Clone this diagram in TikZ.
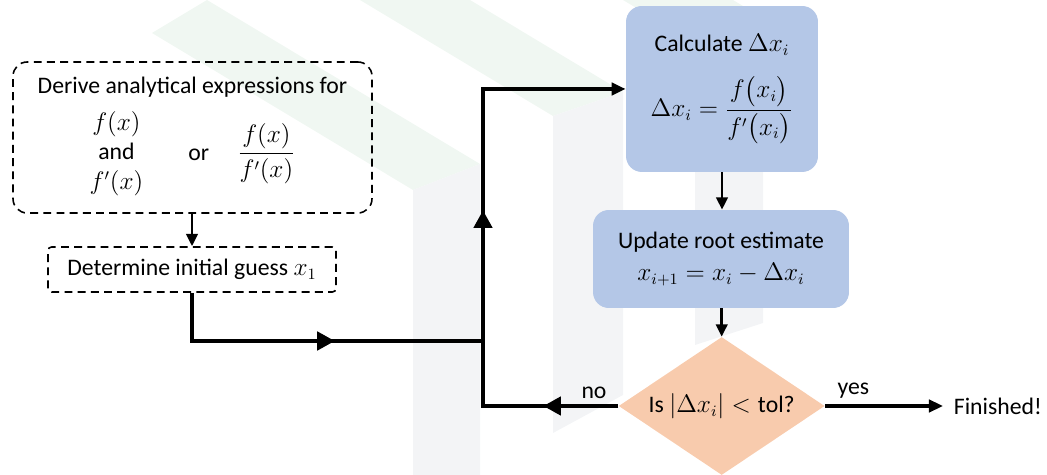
\documentclass[tikz,border=0pt]{standalone}
\usepackage{amsmath}
\usepackage{fontspec}
\setmainfont{Carlito}
\usetikzlibrary{arrows.meta,calc,positioning,shapes.geometric,decorations.markings}
\definecolor{boxblue}{RGB}{180,199,231}
\definecolor{checkorange}{RGB}{248,203,173}
\definecolor{markgreen}{RGB}{240,247,242}
\definecolor{markgray}{RGB}{243,244,246}
\tikzset{
  every node/.style={font=\fontsize{13.5}{16}\selectfont},
  dashbox/.style={draw=black, dash pattern=on 4.5pt off 3pt, line width=0.9pt,
    align=center, inner sep=0pt},
  stepbox/.style={fill=boxblue, rounded corners=9pt, align=center, inner sep=0pt},
  checkbox/.style={diamond, fill=checkorange, inner sep=0pt, aspect=1.5},
  link/.style={line width=1.6pt, -{Triangle[length=7pt,width=6.5pt]}},
  loop line/.style={line width=2pt, line join=miter},
  mid tip/.style={postaction={decorate}, decoration={markings,
    mark=at position #1 with {\arrow{Triangle[length=10pt,width=10.5pt]}}}},
  two tips/.style 2 args={postaction={decorate}, decoration={markings,
    mark=at position #1 with {\arrow{Triangle[length=10pt,width=10.5pt]}},
    mark=at position #2 with {\arrow{Triangle[length=10pt,width=10.5pt]}}}}
}

\begin{document}
\begin{tikzpicture}[x=0.02cm,y=-0.02cm]
  \useasboundingbox (0,0) rectangle (1047,475);

  % faint logo behind the chart
  \fill[markgreen] (152,33) -- (207,0) -- (480,164) -- (413,190) -- cycle;
  \fill[markgray] (413,190) -- (480,164) -- (480,475) -- (413,475) -- cycle;
  \fill[markgreen] (360,0) -- (470,0) -- (623,92) -- (553,116) -- cycle;
  \fill[markgray] (553,116) -- (623,92) -- (623,395) -- (553,433) -- cycle;
  \fill[markgreen] (623,0) -- (733,0) -- (763,18) -- (695,43) -- cycle;
  \fill[markgray] (695,43) -- (763,18) -- (763,323) -- (695,345) -- cycle;

  \node[dashbox, rounded corners=8pt, minimum width=7.18cm, minimum height=3.02cm]
    (derive) at (192.5,137.5) {Derive analytical expressions for\\[6pt]
    \renewcommand\arraystretch{1.05}%
    \begin{tabular}{@{}c@{}}$f(x)$\\and\\$f'(x)$\end{tabular}\hspace{1.9em}or\hspace{1.2em}$\dfrac{f(x)}{f'(x)}$};
  \node[dashbox, rounded corners=2pt, minimum width=5.76cm, minimum height=0.9cm]
    (guess) at (192,269.5) {Determine initial guess $x_1$};

  \node[stepbox, minimum width=3.84cm, minimum height=3.32cm] (calc) at (722,89)
    {Calculate $\Delta x_i$\\[11pt]
    $\displaystyle \Delta x_i=\frac{f\bigl(x_i\bigr)}{f'\bigl(x_i\bigr)}$};
  \node[stepbox, minimum width=5.12cm, minimum height=1.96cm] (update) at (721,259)
    {Update root estimate\\[2pt] $x_{i+1}=x_i-\Delta x_i$};
  \node[checkbox, minimum width=4.12cm, minimum height=2.76cm] (check) at (721.7,406)
    {Is $|\Delta x_i|<\mathrm{tol}$?};
  \node[anchor=west, inner sep=6pt] (done) at (943,406) {Finished!};

  \coordinate (join) at (483,341);
  \coordinate (turn) at (483,406);
  \coordinate (bend) at (turn |- calc.west);

  \draw[link] (derive.south -| guess.north) -- (guess.north);
  \draw[loop line, mid tip=3.82cm] (guess.south) |- (join);
  \draw[loop line, two tips={1.5cm}{6.62cm}, -{Triangle[length=8pt,width=7pt]}]
    (check.west) -- node[above, pos=0.18] {no} (turn) -- (bend) -- (calc.west);
  \draw[link] (calc.south) -- (calc.south |- update.north);
  \draw[link] (update.south -| check.north) -- (check.north);
  \draw[loop line, -{Triangle[length=8pt,width=7pt]}]
    (check.east) -- node[above, pos=0.24] {yes} (done.west);
\end{tikzpicture}
\end{document}
